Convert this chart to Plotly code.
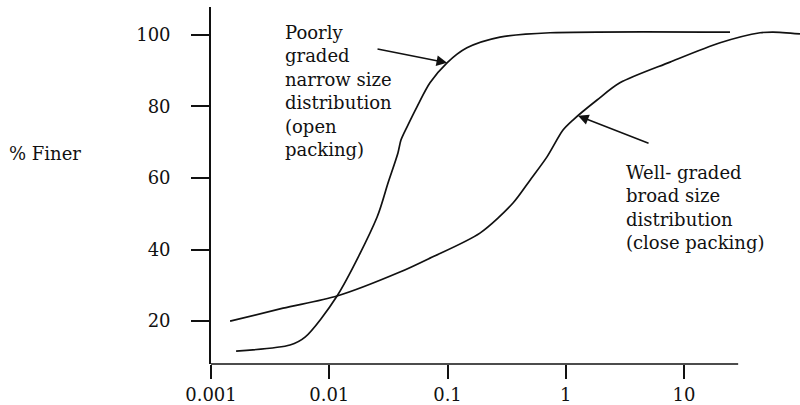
import numpy as np
import plotly.graph_objects as go

# Poorly graded (narrow size distribution)
poor_size = [0.00163, 0.00466, 0.00624, 0.01164, 0.0254, 0.0314, 0.0381, 0.0404,
             0.0455, 0.0552, 0.0711, 0.0991, 0.146, 0.278, 0.736, 24.5]
poor_finer = [11.6, 13.3, 15.5, 27.0, 49.1, 58.6, 67.0, 70.6,
              74.3, 79.9, 86.6, 92.2, 96.4, 99.4, 100.6, 100.8]

# Well graded (broad size distribution)
well_size = [0.00145, 0.00407, 0.01164, 0.0396, 0.0711, 0.188, 0.358, 0.499, 0.694,
             0.948, 1.15, 1.84, 2.87, 7.62, 20.2, 44.0, 56.6, 95.7]
well_finer = [20.0, 23.6, 27.0, 33.7, 37.6, 44.6, 53.0, 59.4, 65.9,
              73.4, 76.2, 81.8, 86.6, 92.4, 97.8, 100.6, 100.8, 100.3]

x_tickvals = [0.001, 0.01, 0.1, 1, 10]
x_ticktext = ["0.001", "0.01", "0.1", "1", "10"]
y_tickvals = [20, 40, 60, 80, 100]

FONT = "DejaVu Serif"
INK = "#111111"

fig = go.Figure()
for xs, ys in [(poor_size, poor_finer), (well_size, well_finer)]:
    fig.add_trace(go.Scatter(x=xs, y=ys, mode="lines",
                             line=dict(color=INK, width=1.7, shape="spline", smoothing=0.8),
                             showlegend=False, hoverinfo="skip"))

fig.update_layout(
    width=800, height=405,
    margin=dict(l=211, r=0, t=7, b=41, autoexpand=False),
    paper_bgcolor="white", plot_bgcolor="white",
    font=dict(family=FONT, size=18, color=INK),
)
fig.update_xaxes(type="log", range=[-3, 1.981], tickmode="array",
                 tickvals=x_tickvals, ticktext=x_ticktext, automargin=False,
                 showgrid=False, zeroline=False, showline=False,
                 ticks="outside", ticklen=14, tickwidth=1.7, tickcolor=INK,
                 tickfont=dict(family=FONT, size=18, color=INK))
fig.update_yaxes(range=[8, 107.8], tickmode="array", tickvals=y_tickvals, automargin=False,
                 showgrid=False, zeroline=False, showline=True, linecolor=INK, linewidth=1.7,
                 ticks="outside", ticklen=18, tickwidth=1.7, tickcolor=INK,
                 ticklabelstandoff=17,
                 tickfont=dict(family=FONT, size=18, color=INK))

# partial x-axis line
fig.add_shape(type="line", xref="paper", yref="paper", x0=0, x1=0.895, y0=0, y1=0,
              line=dict(color=INK, width=1.7))

# y-axis title (horizontal)
fig.add_annotation(text="% Finer", xref="paper", yref="paper", x=-0.282, y=0.591,
                   xanchor="center", yanchor="middle", showarrow=False,
                   font=dict(family=FONT, size=18, color=INK))

fig.add_annotation(text="Poorly<br>graded<br>narrow size<br>distribution<br>(open<br>packing)",
                   xref="paper", yref="paper", x=0.122, y=0.765, xanchor="left", yanchor="middle",
                   align="left", showarrow=False, font=dict(family=FONT, size=18, color=INK))
fig.add_annotation(text="Well- graded<br>broad size<br>distribution<br>(close packing)",
                   xref="paper", yref="paper", x=0.701, y=0.438, xanchor="left", yanchor="middle",
                   align="left", showarrow=False, font=dict(family=FONT, size=18, color=INK))

# arrows pointing at the curves
p_head_x = np.log10(poor_size[11])
p_head_y = poor_finer[11]
w_head_lx = 0.104
w_head_y = float(np.interp(w_head_lx, np.log10(well_size), well_finer))
fig.add_annotation(x=p_head_x, y=p_head_y, xref="x", yref="y", text="", showarrow=True,
                   ax=-71, ay=-14, arrowhead=2, arrowsize=1.4, arrowwidth=1.5,
                   arrowcolor=INK, standoff=0)
fig.add_annotation(x=w_head_lx, y=w_head_y, xref="x", yref="y", text="", showarrow=True,
                   ax=72, ay=28, arrowhead=2, arrowsize=1.4, arrowwidth=1.5,
                   arrowcolor=INK, standoff=0)

fig.write_html("out.html", config={"displayModeBar": False},
               post_script="document.body.style.margin='0';document.body.style.padding='0';")
